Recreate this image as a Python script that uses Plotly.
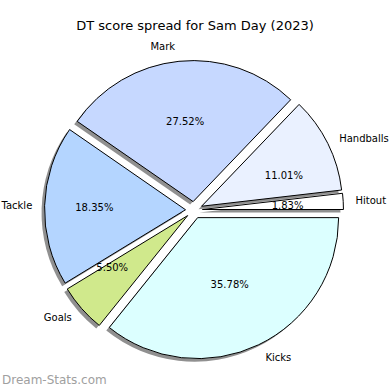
import plotly.graph_objects as go

labels = ["Hitout", "Handballs", "Mark", "Tackle", "Goals", "Kicks"]
values = [2, 12, 30, 20, 6, 39]
colors = ["#ffffff", "#eaf1ff", "#c6d8ff", "#b4d5ff", "#d0e98c", "#dcffff"]
title_text = "DT score spread for Sam Day (2023)"
watermark = "Dream-Stats.com"

W = H = 390
CX, CY = 194, 210          # pie centre, px from top-left
R = 141                    # pie radius, px
PULL = 0.06
R_LABEL = 150              # radius of the transparent pie carrying the outer labels
# slices whose percent is drawn as outside text of a smaller transparent pie (radius px)
PCT_RADIUS = {"Hitout": 75, "Handballs": 76, "Goals": 84}
SHADOW = 3 / W

# plotly's counterclockwise mode ends the first slice at `rotation`; start it at 3 o'clock
rotation = 90 - 360 * values[0] / sum(values)


def domain(radius, pull, ox=0.0, oy=0.0):
    half = radius * (1 + pull)
    return dict(x=[(CX - half) / W + ox, (CX + half) / W + ox],
                y=[(H - CY - half) / H + oy, (H - CY + half) / H + oy])


font = "DejaVu Sans"
base = dict(labels=labels, values=values, sort=False, direction="counterclockwise",
            rotation=rotation, hoverinfo="skip", automargin=False, showlegend=False)
n = len(values)
clear = dict(colors=["rgba(0,0,0,0)"] * n, line=dict(width=0))

fig = go.Figure()
# shadow
fig.add_trace(go.Pie(**base, pull=[PULL] * n, domain=domain(R, PULL, -SHADOW, -SHADOW),
                     marker=dict(colors=["#909090"] * n, line=dict(width=0)),
                     textinfo="none"))
# main pie with percents inside the larger slices
fig.add_trace(go.Pie(**base, pull=[PULL] * n, domain=domain(R, PULL),
                     marker=dict(colors=colors, line=dict(color="black", width=1)),
                     texttemplate="%{percent:.2%}",
                     textposition=["none" if lb in PCT_RADIUS else "inside" for lb in labels],
                     insidetextorientation="horizontal",
                     textfont=dict(family=font, size=10, color="black")))
# percents of the remaining slices
for name, rad in PCT_RADIUS.items():
    fig.add_trace(go.Pie(**base, pull=[0] * n, domain=domain(rad, 0), marker=clear,
                         texttemplate="%{percent:.2%}",
                         textposition=["outside" if lb == name else "none" for lb in labels],
                         textfont=dict(family=font, size=10, color="black")))
# outer labels
fig.add_trace(go.Pie(**base, pull=[PULL] * n, domain=domain(R_LABEL, PULL), marker=clear,
                     texttemplate="%{label}", textposition="outside",
                     textfont=dict(family=font, size=10, color="black")))

fig.update_layout(
    width=W, height=H, margin=dict(l=0, r=0, t=0, b=0, autoexpand=False),
    paper_bgcolor="white", plot_bgcolor="white",
    title=dict(text=title_text, x=0.5, xanchor="center", y=1 - 25 / H, yanchor="middle",
               font=dict(family=font, size=13, color="black")),
    uniformtext=dict(minsize=10, mode="show"),
    annotations=[dict(text=watermark, x=0, y=1 - 380 / H, xref="paper", yref="paper",
                      xanchor="left", yanchor="middle", showarrow=False,
                      font=dict(family=font, size=12, color="#a0a0a0"))],
)

fig.write_html("out.html", config={"displayModeBar": False},
               post_script="document.body.style.margin='0';document.body.style.padding='0';")
